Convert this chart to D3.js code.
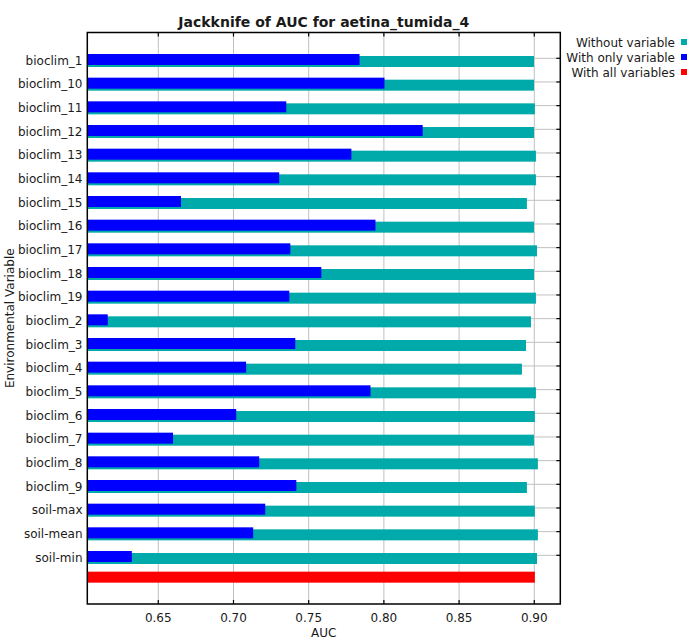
<!DOCTYPE html>
<html>
<head>
<meta charset="utf-8">
<script src="https://cdn.jsdelivr.net/npm/d3@7"></script>
<style>
  body { margin: 0; background: #fff; }
  svg { display: block; font-family: "DejaVu Sans", sans-serif; }
  .grid line { stroke: #c0c0c0; stroke-width: 1; }
  text { fill: #1a1a1a; }
</style>
</head>
<body>
<svg id="chart" width="700" height="642"></svg>
<script>
'use strict'

// data
const variables = ['bioclim_1', 'bioclim_10', 'bioclim_11', 'bioclim_12', 'bioclim_13', 'bioclim_14',
  'bioclim_15', 'bioclim_16', 'bioclim_17', 'bioclim_18', 'bioclim_19', 'bioclim_2', 'bioclim_3',
  'bioclim_4', 'bioclim_5', 'bioclim_6', 'bioclim_7', 'bioclim_8', 'bioclim_9', 'soil-max',
  'soil-mean', 'soil-min']
const withoutVariable = [0.8998, 0.8998, 0.9004, 0.8998, 0.9011, 0.9011, 0.8951, 0.8998, 0.9018,
  0.8998, 0.9011, 0.8978, 0.8945, 0.8918, 0.9011, 0.9004, 0.8998, 0.9024, 0.8951, 0.9004,
  0.9024, 0.9018]
const withOnlyVariable = [0.7838, 0.8004, 0.7351, 0.8258, 0.7784, 0.7304, 0.6651, 0.7944, 0.7378,
  0.7584, 0.7371, 0.6164, 0.7411, 0.7084, 0.7911, 0.7018, 0.6598, 0.7171, 0.7418, 0.7211,
  0.7131, 0.6324]
const withAllVariables = 0.9004
const xTicks = [0.65, 0.70, 0.75, 0.80, 0.85, 0.90]
const legendLabels = ['Without variable', 'With only variable', 'With all variables']
const colors = ['#00aaaa', '#0000ff', '#ff0000']

const svg = d3.select('#chart')
const plotL = 87.3, plotR = 560.3, plotT = 32.5, plotB = 604

const x = d3.scaleLinear().domain([0.6028, 0.9173]).range([plotL, plotR])
// rows by index, the red "all variables" bar sits in row 22
const y = d3.scaleLinear().domain([0, 21]).range([58.3, 555.3])
const barH = 11

// grid
const grid = svg.append('g').attr('class', 'grid')
grid.selectAll('line.v').data(xTicks).join('line')
  .attr('class', 'v')
  .attr('x1', d => x(d)).attr('x2', d => x(d))
  .attr('y1', plotT).attr('y2', plotB)
grid.selectAll('line.h').data(variables).join('line')
  .attr('class', 'h')
  .attr('x1', plotL).attr('x2', plotR)
  .attr('y1', (d, i) => y(i)).attr('y2', (d, i) => y(i))

// bars: without variable (behind, shifted down), with only variable on top
svg.append('g').selectAll('rect').data(withoutVariable).join('rect')
  .attr('x', plotL)
  .attr('y', (d, i) => y(i) - 2.3)
  .attr('width', d => x(d) - plotL)
  .attr('height', barH)
  .attr('fill', colors[0])

svg.append('g').selectAll('rect').data(withOnlyVariable).join('rect')
  .attr('x', plotL)
  .attr('y', (d, i) => y(i) - 4.3)
  .attr('width', d => x(d) - plotL)
  .attr('height', barH)
  .attr('fill', colors[1])

svg.append('rect')
  .attr('x', plotL)
  .attr('y', y(22) - 7.3)
  .attr('width', x(withAllVariables) - plotL)
  .attr('height', barH)
  .attr('fill', colors[2])

// frame
svg.append('rect')
  .attr('x', plotL).attr('y', plotT)
  .attr('width', plotR - plotL).attr('height', plotB - plotT)
  .attr('fill', 'none').attr('stroke', '#000').attr('stroke-width', 1.5)

// inner ticks
const ticks = svg.append('g').attr('stroke', '#000').attr('stroke-width', 1.2)
xTicks.forEach(t => {
  ticks.append('line').attr('x1', x(t)).attr('x2', x(t)).attr('y1', plotB).attr('y2', plotB - 4)
  ticks.append('line').attr('x1', x(t)).attr('x2', x(t)).attr('y1', plotT).attr('y2', plotT + 4)
})
variables.forEach((v, i) => {
  ticks.append('line').attr('x1', plotR).attr('x2', plotR - 4).attr('y1', y(i)).attr('y2', y(i))
})

// tick labels
svg.append('g').selectAll('text').data(xTicks).join('text')
  .attr('x', d => x(d)).attr('y', 622)
  .attr('text-anchor', 'middle')
  .attr('font-size', 12)
  .text(d => d3.format('.2f')(d))

svg.append('g').selectAll('text').data(variables).join('text')
  .attr('x', 82.5).attr('y', (d, i) => y(i) + 6.5)
  .attr('text-anchor', 'end')
  .attr('font-size', 12)
  .text(d => d)

// titles
svg.append('text')
  .attr('x', (plotL + plotR) / 2).attr('y', 27)
  .attr('text-anchor', 'middle')
  .attr('font-size', 14).attr('font-weight', 'bold')
  .text('Jackknife of AUC for aetina_tumida_4')

svg.append('text')
  .attr('x', (plotL + plotR) / 2).attr('y', 637)
  .attr('text-anchor', 'middle')
  .attr('font-size', 12)
  .text('AUC')

svg.append('text')
  .attr('transform', 'translate(14,' + (plotT + plotB) / 2 + ') rotate(-90)')
  .attr('text-anchor', 'middle')
  .attr('font-size', 12)
  .text('Environmental Variable')

// legend
const legend = svg.append('g').selectAll('g').data(legendLabels).join('g')
  .attr('transform', (d, i) => 'translate(0,' + (i * 15) + ')')
legend.append('text')
  .attr('x', 675).attr('y', 46.5)
  .attr('text-anchor', 'end')
  .attr('font-size', 12)
  .text(d => d)
legend.append('rect')
  .attr('x', 681).attr('y', 39)
  .attr('width', 6).attr('height', 6)
  .attr('fill', (d, i) => colors[i])
</script>
</body>
</html>
